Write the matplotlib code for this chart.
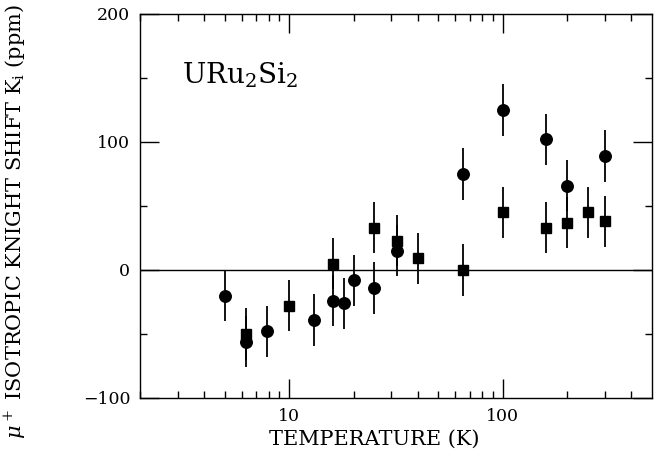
import matplotlib
matplotlib.use("Agg")
import matplotlib.pyplot as plt
from matplotlib.ticker import FixedLocator, NullFormatter, FixedFormatter

# Data
circle_T = [5, 6.3, 7.9, 13, 16, 18, 20, 25, 32, 65, 100, 160, 200, 300]
circle_K = [-20, -56, -48, -39, -24, -26, -8, -14, 15, 75, 125, 102, 66, 89]
circle_err = [20] * len(circle_T)

square_T = [6.3, 10, 16, 25, 32, 40, 65, 100, 160, 200, 250, 300]
square_K = [-50, -28, 5, 33, 23, 9, 0, 45, 33, 37, 45, 38]
square_err = [20] * len(square_T)

x_major = [10, 100]
x_major_labels = ["10", "100"]
y_major = [-100, 0, 100, 200]

plt.rcParams['font.family'] = ['DejaVu Serif']
plt.rcParams['mathtext.fontset'] = 'dejavuserif'

fig = plt.figure(figsize=(6.58, 4.58), dpi=100)
ax = fig.add_axes([140/658, 1-398/458, (652-140)/658, (398-14)/458])

ax.axhline(0, color='black', lw=1.0, zorder=1)
ax.errorbar(circle_T, circle_K, yerr=circle_err, fmt='o', color='black',
            ms=8.3, elinewidth=1.3, capsize=0, zorder=3)
ax.errorbar(square_T, square_K, yerr=square_err, fmt='s', color='black',
            ms=7.8, elinewidth=1.3, capsize=0, zorder=3)

ax.set_xscale('log')
ax.set_xlim(2, 500)
ax.set_ylim(-100, 200)

ax.xaxis.set_major_locator(FixedLocator(x_major))
ax.xaxis.set_major_formatter(FixedFormatter(x_major_labels))
minors = [m * d for d in (1, 10, 100) for m in range(2, 10) if m * d < 500 and m * d != 10 and m * d != 100]
ax.xaxis.set_minor_locator(FixedLocator(minors))
ax.xaxis.set_minor_formatter(NullFormatter())
ax.yaxis.set_major_locator(FixedLocator(y_major))
ax.yaxis.set_minor_locator(FixedLocator([-50, 50, 150]))

ax.tick_params(which='both', direction='in', top=True, right=True, width=1.0, color='black')
ax.tick_params(which='major', length=14, labelsize=12.5, pad=7)
ax.tick_params(which='minor', length=5)
for s in ax.spines.values():
    s.set_linewidth(1.0)

ax.set_xlabel('TEMPERATURE (K)', fontsize=15)
ax.xaxis.set_label_coords((374 - 140) / 512, -(439 - 398) / 384, transform=ax.transAxes)
ax.xaxis.label.set_va('center')
fig.text(0.023, 0.517, r'$\mu^+$ ISOTROPIC KNIGHT SHIFT K$_{\rm i}$ (ppm)',
         rotation=90, ha='center', va='center', fontsize=15)

ax.text(0.082, 0.84, r'URu$_2$Si$_2$', transform=ax.transAxes, fontsize=20,
        ha='left', va='center')

fig.savefig('out.png', dpi=100)
